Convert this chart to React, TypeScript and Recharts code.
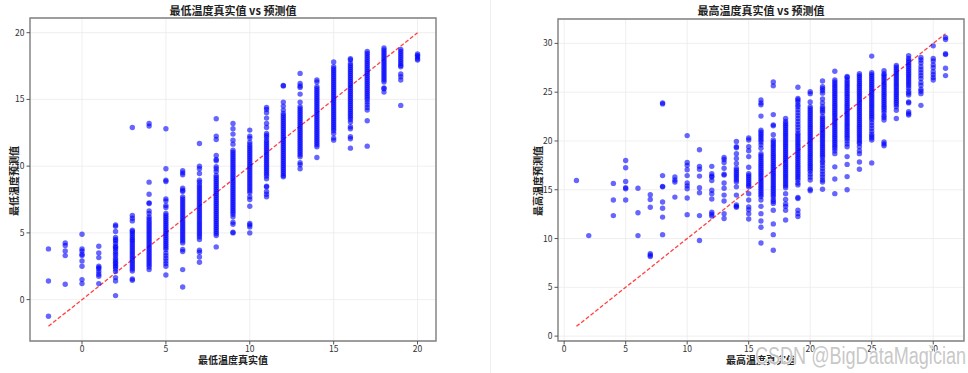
import React from "react";
import { ScatterChart, Scatter, XAxis, YAxis, CartesianGrid, ReferenceLine, ReferenceArea } from "recharts";

// 最低温度: true values and the predictions
const minTrue = [-2, -1, 0, 1, 2, 3, 4, 5, 6, 7, 8, 9, 10, 11, 12, 13, 14, 15, 16, 17, 18, 19, 20];
const minPred: number[][] = [
  [3.8, 1.4, -1.25],
  [4.25, 4.05, 3.65, 3.3, 1.15],
  [4.9, 3.8, 3.65, 3.4, 3.3, 2.9, 2.5, 1.5, 1.2],
  [4.0, 3.5, 3.15, 2.5, 2.4, 2.3, 2.1, 1.9, 1.75, 1.2],
  [5.6, 5.5, 5.1, 4.65, 4.5, 4.4, 4.2, 4.0, 3.9, 3.8, 3.6, 3.45, 3.3, 3.1, 2.95, 2.8, 2.7, 2.55, 2.45, 2.3, 2.1, 1.65, 1.4, 0.3],
  [12.9, 6.3, 6.1, 5.9, 5.2, 5.1, 4.95, 4.8, 4.65, 4.5, 4.4, 4.25, 4.1, 3.95, 3.8, 3.65, 3.5, 3.35, 3.2, 3.05, 2.9, 2.75, 2.6, 2.45, 2.3, 2.15, 1.55, 1.45],
  [13.2, 13.0, 8.8, 7.9, 7.25, 7.2, 6.65, 6.45, 6.2, 6.05, 5.9, 5.75, 5.6, 5.45, 5.3, 5.15, 5.0, 4.85, 4.7, 4.55, 4.4, 4.25, 4.1, 3.95, 3.8, 3.65, 3.5, 3.35, 3.2, 3.05, 2.9, 2.75, 2.6, 2.45, 2.25],
  [12.8, 9.8, 8.95, 8.85, 7.55, 7.4, 7.05, 6.9, 6.45, 6.3, 6.15, 6.0, 5.85, 5.7, 5.55, 5.4, 5.25, 5.1, 4.95, 4.8, 4.65, 4.5, 4.35, 4.2, 4.05, 3.9, 3.75, 3.5, 3.3, 3.1, 2.9, 2.7, 2.5, 1.85],
  [9.65, 9.5, 9.35, 8.35, 8.2, 8.1, 7.7, 7.55, 7.4, 7.25, 7.1, 6.95, 6.8, 6.65, 6.5, 6.35, 6.2, 6.05, 5.9, 5.75, 5.6, 5.45, 5.3, 5.15, 5.0, 4.85, 4.7, 4.55, 4.4, 4.25, 3.75, 3.6, 2.25, 0.95],
  [11.7, 10.0, 9.8, 9.45, 8.95, 8.8, 8.6, 8.45, 8.3, 8.15, 8.0, 7.85, 7.7, 7.55, 7.4, 7.25, 7.1, 6.95, 6.8, 6.65, 6.5, 6.35, 6.2, 6.05, 5.9, 5.75, 5.6, 5.45, 5.3, 5.15, 5.0, 4.85, 4.7, 4.5, 3.7, 3.55, 3.2, 2.8],
  [13.55, 12.25, 12.0, 10.8, 10.5, 10.4, 9.95, 9.8, 9.6, 9.3, 9.15, 9.0, 8.85, 8.7, 8.55, 8.4, 8.25, 8.1, 7.95, 7.8, 7.65, 7.5, 7.35, 7.2, 7.05, 6.9, 6.75, 6.6, 6.45, 6.3, 6.15, 6.0, 5.85, 5.7, 5.55, 5.4, 5.25, 5.1, 4.95, 4.8, 3.95],
  [13.2, 12.8, 12.4, 11.95, 11.65, 11.2, 11.05, 10.9, 10.75, 10.6, 10.45, 10.3, 10.15, 10.0, 9.85, 9.7, 9.55, 9.4, 9.25, 9.1, 8.95, 8.8, 8.65, 8.5, 8.35, 8.2, 8.05, 7.9, 7.75, 7.6, 7.45, 7.3, 7.15, 7.0, 6.85, 6.7, 6.55, 6.4, 6.2, 5.8, 5.65, 5.05, 5.0],
  [12.7, 12.25, 12.1, 11.8, 11.6, 11.45, 11.3, 11.15, 11.0, 10.85, 10.7, 10.55, 10.4, 10.25, 10.1, 9.95, 9.8, 9.65, 9.5, 9.35, 9.2, 9.05, 8.9, 8.75, 8.6, 8.45, 8.3, 8.15, 8.0, 7.7, 7.5, 7.0, 5.7, 5.6, 5.45, 5.0],
  [14.4, 14.25, 14.0, 13.6, 13.2, 12.9, 12.45, 12.3, 12.15, 11.95, 11.8, 11.65, 11.5, 11.35, 11.2, 11.05, 10.9, 10.75, 10.6, 10.45, 10.3, 10.15, 10.0, 9.85, 9.7, 9.55, 9.4, 9.25, 9.05, 8.5, 8.45, 8.1, 7.9, 7.7],
  [16.05, 16.0, 14.8, 14.5, 14.2, 13.95, 13.8, 13.65, 13.5, 13.35, 13.2, 13.05, 12.9, 12.75, 12.6, 12.45, 12.3, 12.15, 12.0, 11.85, 11.7, 11.55, 11.4, 11.25, 11.1, 10.95, 10.8, 10.65, 10.5, 10.35, 10.2, 10.05, 9.9, 9.75, 9.6, 9.45, 9.3, 9.2],
  [16.95, 16.2, 16.0, 15.9, 15.4, 14.8, 14.45, 14.3, 14.15, 14.0, 13.85, 13.7, 13.55, 13.4, 13.25, 13.1, 12.95, 12.8, 12.65, 12.5, 12.35, 12.2, 12.05, 11.9, 11.75, 11.6, 11.45, 11.3, 11.15, 11.0, 10.85, 10.7, 10.25, 10.1, 9.8],
  [16.45, 16.3, 15.95, 15.8, 15.65, 15.5, 15.35, 15.2, 15.05, 14.9, 14.75, 14.6, 14.45, 14.3, 14.15, 14.0, 13.85, 13.7, 13.55, 13.4, 13.25, 13.1, 12.95, 12.8, 12.65, 12.5, 12.35, 12.2, 12.05, 11.9, 11.75, 11.6, 11.45, 10.65],
  [17.8, 17.45, 17.3, 17.15, 17.0, 16.85, 16.7, 16.55, 16.4, 16.25, 16.1, 15.95, 15.8, 15.65, 15.5, 15.35, 15.2, 15.05, 14.9, 14.75, 14.6, 14.45, 14.3, 14.15, 14.0, 13.85, 13.7, 13.55, 13.4, 13.25, 13.1, 12.95, 12.8, 12.65, 12.45, 12.1, 11.95],
  [18.05, 17.95, 17.7, 17.55, 17.4, 17.25, 17.1, 16.95, 16.8, 16.65, 16.5, 16.35, 16.2, 16.05, 15.9, 15.75, 15.6, 15.45, 15.3, 15.15, 15.0, 14.85, 14.7, 14.55, 14.4, 14.25, 14.1, 13.95, 13.8, 13.65, 13.5, 13.3, 12.95, 12.8, 12.2, 12.05, 11.35],
  [18.6, 18.45, 18.3, 18.15, 18.0, 17.85, 17.7, 17.55, 17.4, 17.25, 17.1, 16.95, 16.8, 16.65, 16.5, 16.35, 16.2, 16.05, 15.9, 15.75, 15.6, 15.45, 15.3, 15.15, 15.0, 14.8, 14.6, 14.4, 14.2, 13.4, 11.5],
  [18.85, 18.7, 18.55, 18.4, 18.25, 18.1, 17.95, 17.8, 17.65, 17.5, 17.35, 17.2, 17.05, 16.9, 16.75, 16.6, 16.45, 16.3, 15.85, 15.8, 15.55],
  [18.75, 18.6, 18.45, 18.3, 18.15, 18.0, 17.85, 17.7, 17.55, 17.45, 16.9, 16.7, 16.45, 14.55],
  [18.4, 18.3, 18.2, 18.05, 17.95],
];

// 最高温度
const maxTrue = [1, 2, 4, 5, 6, 7, 8, 9, 10, 11, 12, 13, 14, 15, 16, 17, 18, 19, 20, 21, 22, 23, 24, 25, 26, 27, 28, 29, 30, 31];
const maxPred: number[][] = [
  [15.95],
  [10.3],
  [15.65, 13.95, 12.35],
  [18.0, 17.25, 15.85, 15.2, 15.1, 13.95],
  [15.15, 12.65, 10.3],
  [14.5, 14.0, 13.2, 8.45, 8.3, 8.15],
  [23.9, 23.8, 16.45, 15.35, 15.3, 13.75, 13.1, 12.2, 10.4],
  [16.3, 16.0, 15.8, 14.25],
  [20.55, 17.8, 17.5, 17.05, 16.45, 15.7, 15.4, 15.1, 14.15, 12.45],
  [19.1, 17.4, 17.1, 16.4, 15.2, 14.7, 12.35, 9.8],
  [17.4, 16.65, 16.4, 16.3, 15.95, 14.95, 14.6, 14.05, 12.7, 12.5, 12.3],
  [18.3, 18.1, 17.8, 17.2, 16.6, 16.5, 15.7, 15.15, 14.45, 13.85, 12.55, 12.05],
  [19.95, 19.4, 19.3, 18.7, 18.2, 17.7, 17.2, 17.0, 16.8, 16.6, 16.4, 16.2, 16.0, 15.8, 15.3, 14.45, 13.45, 13.3, 13.2],
  [20.3, 20.1, 19.4, 19.0, 18.4, 17.3, 16.65, 16.45, 16.25, 16.05, 15.85, 15.65, 15.45, 15.3, 14.6, 13.95, 13.25, 12.95, 12.55, 12.0],
  [24.2, 23.9, 23.7, 22.55, 21.1, 20.9, 20.7, 20.5, 20.3, 20.1, 19.9, 19.6, 19.25, 18.7, 18.5, 18.3, 18.1, 17.9, 17.7, 17.5, 17.3, 17.1, 16.9, 16.7, 16.5, 16.3, 16.1, 15.9, 15.7, 15.5, 15.3, 15.1, 14.9, 14.7, 14.5, 14.3, 13.95, 13.3, 12.55, 11.8, 11.15, 9.55],
  [26.05, 25.65, 22.7, 21.65, 21.55, 20.65, 20.1, 19.9, 19.7, 19.5, 19.3, 19.1, 18.9, 18.7, 18.5, 18.3, 18.1, 17.9, 17.7, 17.5, 17.3, 17.1, 16.9, 16.7, 16.5, 16.3, 16.1, 15.9, 15.7, 15.5, 15.3, 15.1, 14.9, 14.7, 14.5, 14.3, 14.0, 13.8, 13.6, 12.9, 11.5, 10.4, 8.8],
  [22.3, 22.0, 21.8, 21.6, 21.4, 21.2, 21.0, 20.8, 20.6, 20.4, 20.2, 20.0, 19.8, 19.6, 19.4, 19.2, 19.0, 18.8, 18.6, 18.4, 18.2, 18.0, 17.8, 17.6, 17.4, 17.2, 17.0, 16.8, 16.6, 16.4, 16.2, 16.0, 15.8, 15.6, 15.4, 15.2, 14.6, 14.0, 13.55, 13.3, 12.9, 11.9],
  [25.5, 24.35, 24.2, 24.0, 23.7, 23.5, 23.2, 22.9, 22.6, 22.3, 22.0, 21.7, 21.4, 21.1, 20.8, 20.6, 20.4, 20.2, 20.0, 19.8, 19.6, 19.4, 19.2, 19.0, 18.8, 18.6, 18.4, 18.2, 18.0, 17.8, 17.6, 17.4, 17.2, 17.0, 16.8, 16.6, 16.4, 16.2, 16.0, 15.7, 15.5, 14.2, 14.1, 12.9, 12.55, 12.25],
  [25.05, 24.85, 24.0, 23.5, 23.3, 23.1, 22.9, 22.7, 22.5, 22.3, 22.1, 21.9, 21.7, 21.5, 21.3, 21.1, 20.9, 20.7, 20.5, 20.3, 20.1, 19.9, 19.7, 19.5, 19.3, 19.1, 18.9, 18.7, 18.5, 18.3, 18.1, 17.9, 17.7, 17.5, 17.3, 17.1, 16.9, 16.6, 16.3, 16.0, 15.05, 14.9],
  [26.15, 25.55, 25.35, 25.15, 24.9, 24.3, 23.9, 23.5, 23.3, 23.1, 22.9, 22.5, 22.3, 22.1, 21.9, 21.7, 21.5, 21.3, 21.1, 20.9, 20.7, 20.5, 20.3, 20.1, 19.9, 19.7, 19.5, 19.3, 19.1, 18.9, 18.7, 18.5, 18.3, 18.0, 17.8, 17.5, 17.2, 16.9, 16.6, 16.3, 16.0, 15.8, 15.05],
  [27.15, 26.25, 26.05, 25.85, 25.65, 25.45, 25.25, 25.05, 24.85, 24.65, 24.45, 24.25, 24.05, 23.85, 23.65, 23.45, 23.25, 23.05, 22.85, 22.65, 22.45, 22.25, 22.05, 21.85, 21.65, 21.45, 21.25, 21.05, 20.85, 20.65, 20.45, 20.25, 20.05, 19.85, 19.65, 19.45, 19.25, 19.0, 18.7, 17.35, 16.1, 14.6],
  [26.6, 26.5, 26.25, 26.05, 25.85, 25.65, 25.45, 25.25, 25.05, 24.85, 24.65, 24.45, 24.25, 24.05, 23.85, 23.65, 23.45, 23.25, 23.05, 22.85, 22.65, 22.45, 22.25, 22.05, 21.85, 21.65, 21.45, 21.25, 21.05, 20.85, 20.65, 20.45, 20.25, 20.0, 19.7, 19.4, 18.4, 17.6, 16.35, 15.0],
  [26.9, 26.7, 26.5, 26.3, 26.1, 25.9, 25.7, 25.5, 25.3, 25.1, 24.9, 24.7, 24.5, 24.3, 24.1, 23.9, 23.7, 23.5, 23.3, 23.1, 22.9, 22.7, 22.5, 22.3, 22.1, 21.9, 21.7, 21.5, 21.3, 21.1, 20.9, 20.7, 20.5, 20.3, 20.1, 19.9, 19.75, 19.4, 19.0, 18.7, 17.85, 17.1],
  [28.7, 27.0, 26.8, 26.6, 26.4, 26.2, 26.0, 25.8, 25.6, 25.4, 25.2, 25.0, 24.8, 24.6, 24.4, 24.2, 24.0, 23.8, 23.6, 23.4, 23.2, 23.0, 22.8, 22.6, 22.4, 22.2, 21.9, 21.6, 21.3, 21.0, 20.7, 20.5, 20.3, 20.1, 17.75],
  [27.2, 26.9, 26.75, 26.55, 26.35, 26.15, 25.95, 25.75, 25.55, 25.35, 25.15, 24.95, 24.75, 24.55, 24.35, 24.15, 23.95, 23.75, 23.55, 23.35, 23.15, 22.9, 22.6, 22.4, 22.15, 19.9, 19.7, 19.5],
  [27.75, 27.55, 27.35, 27.15, 26.95, 26.75, 26.55, 26.35, 26.15, 25.95, 25.75, 25.55, 25.35, 25.15, 24.95, 24.75, 24.55, 24.35, 24.15, 23.95, 23.75, 23.5, 23.15, 22.3],
  [28.75, 28.45, 28.25, 28.05, 27.85, 27.65, 27.45, 27.25, 27.05, 26.85, 26.65, 26.45, 26.25, 26.05, 25.85, 25.65, 25.4, 25.1, 24.9, 24.7, 24.0, 23.9, 23.0, 22.8, 22.65],
  [28.55, 28.3, 28.0, 27.6, 27.3, 27.0, 26.7, 26.4, 26.0, 25.7, 25.3, 25.1, 24.85, 23.65],
  [29.75, 28.45, 28.2, 27.8, 27.5, 27.1, 26.8, 26.5, 26.25],
  [30.6, 30.4, 28.95, 28.85, 27.45, 26.7],
];

const minTicks = [0, 5, 10, 15, 20];
const maxTicks = [0, 5, 10, 15, 20, 25, 30];

const FONT = '"Noto Sans CJK SC", "Noto Sans", sans-serif';

const toPoints = (truth: number[], preds: number[][]) =>
  truth.flatMap((t, i) => preds[i].map((p) => ({ x: t, y: p })));

const dot = (props: any) => (
  <circle cx={props.cx} cy={props.cy} r={2.7} fill="#0000ff" fillOpacity={0.6} />
);

interface PanelProps {
  points: { x: number; y: number }[];
  domain: [number, number];
  ticks: number[];
  line: [number, number];
  left: number;
  yAxisWidth: number;
  rightMargin: number;
  top: number;
}

function Panel({ points, domain, ticks, line, left, yAxisWidth, rightMargin, top }: PanelProps) {
  const tickStyle = { fontSize: 8.5, fill: "#333", fontFamily: FONT };
  return (
    <div style={{ position: "absolute", left, top: 0 }}>
      <ScatterChart width={484} height={373} margin={{ top, right: rightMargin, bottom: 0, left: 0 }}>
        <CartesianGrid stroke="#ebebeb" strokeWidth={0.8} />
        <XAxis
          dataKey="x"
          type="number"
          domain={domain}
          ticks={ticks}
          allowDataOverflow
          height={32}
          axisLine={false}
          tickLine={{ stroke: "#555" }}
          tickSize={3.5}
          tickMargin={1}
          tick={tickStyle}
        />
        <YAxis
          dataKey="y"
          type="number"
          domain={domain}
          ticks={ticks}
          allowDataOverflow
          width={yAxisWidth}
          axisLine={false}
          tickLine={{ stroke: "#555" }}
          tickSize={3.5}
          tickMargin={2}
          tick={tickStyle}
        />
        <Scatter data={points} shape={dot} isAnimationActive={false} />
        <ReferenceLine
          segment={[
            { x: line[0], y: line[0] },
            { x: line[1], y: line[1] },
          ]}
          stroke="#ff2020"
          strokeOpacity={0.85}
          strokeWidth={1.3}
          strokeDasharray="4 2"
        />
        <ReferenceArea
          x1={domain[0]}
          x2={domain[1]}
          y1={domain[0]}
          y2={domain[1]}
          fill="none"
          fillOpacity={0}
          stroke="#808080"
          strokeWidth={1.4}
        />
      </ScatterChart>
    </div>
  );
}

const textBase: React.CSSProperties = {
  position: "absolute",
  fontFamily: FONT,
  fontWeight: 700,
  color: "#222",
  whiteSpace: "nowrap",
  transform: "translate(-50%, -50%)",
};

export default function App() {
  const minPoints = toPoints(minTrue, minPred);
  const maxPoints = toPoints(maxTrue, maxPred);

  return (
    <div style={{ position: "absolute", left: 0, top: 0, width: 968, height: 373, background: "#fff", overflow: "hidden" }}>
      <div style={{ position: "absolute", left: 490, top: 0, width: 1, height: 373, background: "#eeeeee" }} />
      <Panel points={minPoints} domain={[-3.1, 21.1]} ticks={minTicks} line={[-2, 20]} left={0} yAxisWidth={30} rightMargin={48} top={18} />
      <Panel points={maxPoints} domain={[-0.5, 32.5]} ticks={maxTicks} line={[1, 31]} left={484} yAxisWidth={74} rightMargin={4} top={19} />

      <div style={{ ...textBase, left: 233, top: 10, fontSize: 11 }}>最低温度真实值 vs 预测值</div>
      <div style={{ ...textBase, left: 233, top: 359, fontSize: 10 }}>最低温度真实值</div>
      <div style={{ ...textBase, left: 13, top: 181, fontSize: 10, transform: "translate(-50%, -50%) rotate(-90deg)" }}>最低温度预测值</div>

      <div style={{ ...textBase, left: 761, top: 10, fontSize: 11 }}>最高温度真实值 vs 预测值</div>
      <div style={{ ...textBase, left: 761, top: 359, fontSize: 10 }}>最高温度真实值</div>
      <div style={{ ...textBase, left: 537, top: 181, fontSize: 10, transform: "translate(-50%, -50%) rotate(-90deg)" }}>最高温度预测值</div>

      <svg width={968} height={373} style={{ position: "absolute", left: 0, top: 0, pointerEvents: "none" }}>
        <text
          x={755}
          y={364}
          fontSize={23}
          fontFamily='"Liberation Sans", Arial, sans-serif'
          textLength={211}
          lengthAdjust="spacingAndGlyphs"
          fill="#bdbdbd"
          fillOpacity={0.85}
          stroke="#ffffff"
          strokeWidth={1.5}
          style={{ paintOrder: "stroke" }}
        >
          CSDN @BigDataMagician
        </text>
      </svg>
    </div>
  );
}
